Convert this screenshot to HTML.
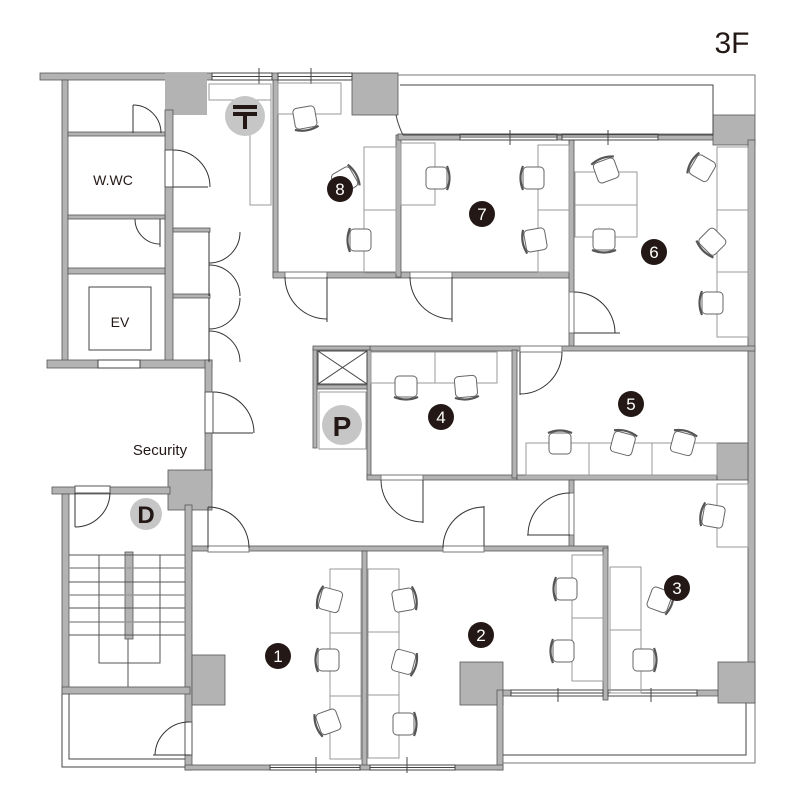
<!DOCTYPE html>
<html><head><meta charset="utf-8"><style>
html,body{margin:0;padding:0;background:#fff;}
svg{display:block;}
text{font-family:"Liberation Sans",sans-serif;}
</style></head><body>
<svg width="800" height="810" viewBox="0 0 800 810" xmlns="http://www.w3.org/2000/svg">
<defs>
<g id="ch"><rect x="-10" y="-11" width="21" height="22" rx="4" fill="#fff" stroke="#666" stroke-width="1"/><path d="M-10,-12 Q-15,0 -10,12" fill="none" stroke="#555" stroke-width="2.2"/></g>
</defs>
<g fill="#b3b3b3" stroke="#555" stroke-width="0.8">
<rect x="40" y="73" width="172" height="7"/>
<rect x="272" y="73" width="6" height="7"/>
<rect x="165" y="73" width="42" height="42" stroke="none"/>
<rect x="352" y="73" width="46" height="42"/>
<rect x="62" y="80" width="6" height="285"/>
<rect x="165" y="110" width="8" height="255"/>
<rect x="68" y="132" width="97" height="4"/>
<rect x="68" y="215" width="97" height="4"/>
<rect x="68" y="268" width="97" height="6"/>
<rect x="47" y="360" width="165" height="8"/>
<rect x="205" y="360" width="7" height="130"/>
<rect x="168" y="470" width="44" height="40"/>
<rect x="173" y="228" width="37" height="4"/>
<rect x="173" y="294" width="37" height="4"/>
<rect x="273" y="80" width="5" height="197"/>
<rect x="273" y="272" width="300" height="6"/>
<rect x="396" y="135" width="5" height="142"/>
<rect x="398" y="134" width="62" height="6"/>
<rect x="557" y="134" width="5" height="6"/>
<rect x="658" y="134" width="60" height="6"/>
<rect x="713" y="115" width="42" height="30"/>
<rect x="748" y="140" width="7" height="563"/>
<rect x="569" y="140" width="5" height="208"/>
<rect x="370" y="346" width="385" height="5"/>
<rect x="313" y="348" width="4" height="100"/>
<rect x="313" y="346" width="57" height="4"/>
<rect x="367" y="350" width="4" height="128"/>
<rect x="317" y="385" width="50" height="4"/>
<rect x="367" y="475" width="150" height="5"/>
<rect x="512" y="350" width="5" height="128"/>
<rect x="517" y="475" width="200" height="5"/>
<rect x="717" y="443" width="31" height="37"/>
<rect x="569" y="480" width="5" height="70"/>
<rect x="190" y="546" width="418" height="5"/>
<rect x="185" y="505" width="7" height="265"/>
<rect x="192" y="655" width="33" height="50"/>
<rect x="362" y="551" width="5" height="216"/>
<rect x="603" y="548" width="5" height="152"/>
<rect x="460" y="662" width="43" height="43"/>
<rect x="497" y="690" width="6" height="80"/>
<rect x="185" y="765" width="85" height="5"/>
<rect x="360" y="765" width="10" height="5"/>
<rect x="455" y="765" width="48" height="5"/>
<rect x="503" y="690" width="8" height="6"/>
<rect x="697" y="690" width="21" height="6"/>
<rect x="718" y="662" width="37" height="41"/>
<rect x="52" y="487" width="118" height="7"/>
<rect x="62" y="494" width="7" height="200"/>
<rect x="62" y="687" width="128" height="7"/>
<rect x="125" y="552" width="8" height="87"/>
</g>
<g fill="none" stroke="#444" stroke-width="1">
<rect x="212" y="73" width="60" height="7" fill="#fff"/><line x1="212" y1="76.5" x2="272" y2="76.5"/><line x1="259" y1="68" x2="259" y2="84"/>
<rect x="278" y="73" width="74" height="7" fill="#fff"/><line x1="278" y1="76.5" x2="352" y2="76.5"/><line x1="311" y1="68" x2="311" y2="84"/>
<rect x="460" y="134" width="97" height="6" fill="#fff"/><line x1="460" y1="137" x2="557" y2="137"/><line x1="510" y1="130" x2="510" y2="145"/>
<rect x="562" y="134" width="96" height="6" fill="#fff"/><line x1="562" y1="137" x2="658" y2="137"/><line x1="608" y1="130" x2="608" y2="145"/>
<rect x="270" y="765" width="90" height="5" fill="#fff"/><line x1="270" y1="767.5" x2="360" y2="767.5"/><line x1="316" y1="757" x2="316" y2="773"/>
<rect x="370" y="765" width="85" height="5" fill="#fff"/><line x1="370" y1="767.5" x2="455" y2="767.5"/><line x1="407" y1="757" x2="407" y2="773"/>
<rect x="511" y="690" width="92" height="6" fill="#fff"/><line x1="511" y1="693" x2="603" y2="693"/><line x1="558" y1="688" x2="558" y2="702"/>
<rect x="608" y="690" width="89" height="6" fill="#fff"/><line x1="608" y1="693" x2="697" y2="693"/><line x1="651" y1="688" x2="651" y2="702"/>
<rect x="98" y="360" width="42" height="8" fill="#fff"/>
<path d="M398,75 H755 V115" stroke="#777"/>
<path d="M400,85 H713 V135 H403"/>
<path d="M396,115 Q398,125 403,135"/>
<path d="M503,755 H746 V703"/>
<path d="M503,763 H755 V703" stroke="#777"/>
<path d="M62,694 V767 H185"/>
<path d="M69,694 V759 H185"/>
<rect x="89" y="287" width="62" height="63"/>
<rect x="318" y="351" width="49" height="33"/><line x1="318" y1="351" x2="367" y2="384"/><line x1="367" y1="351" x2="318" y2="384"/>
<rect x="319" y="392" width="47" height="57" stroke="#999"/>
<g stroke="#555">
<line x1="69" y1="555" x2="185" y2="555"/><line x1="69" y1="568" x2="185" y2="568" stroke="#999" stroke-width="1.5"/>
<line x1="69" y1="582" x2="185" y2="582"/><line x1="69" y1="595" x2="185" y2="595" stroke="#999" stroke-width="1.5"/>
<line x1="69" y1="608" x2="185" y2="608"/><line x1="69" y1="622" x2="185" y2="622" stroke="#999" stroke-width="1.5"/>
<line x1="69" y1="635" x2="185" y2="635"/>
<path d="M99,555 V663 H160 V555"/><line x1="128" y1="639" x2="128" y2="687"/>
</g>
</g>
<g fill="none" stroke="#999" stroke-width="1">
<rect x="209" y="84" width="62" height="16"/><rect x="250" y="100" width="21" height="105"/>
<rect x="278" y="83" width="63" height="31"/>
<rect x="364" y="147" width="32" height="63"/><rect x="364" y="210" width="32" height="63"/>
<rect x="401" y="143" width="34" height="62"/>
<rect x="538" y="145" width="31" height="65"/><rect x="538" y="210" width="31" height="62"/>
<rect x="575" y="172" width="62" height="33"/><rect x="575" y="205" width="62" height="32"/>
<rect x="717" y="147" width="31" height="63"/><rect x="717" y="210" width="31" height="62"/><rect x="717" y="272" width="31" height="65"/>
<rect x="371" y="352" width="64" height="31"/><rect x="435" y="352" width="62" height="31"/>
<rect x="526" y="443" width="63" height="32"/><rect x="589" y="443" width="63" height="32"/><rect x="652" y="443" width="65" height="32"/>
<rect x="717" y="484" width="31" height="63"/>
<rect x="610" y="567" width="31" height="63"/><rect x="610" y="630" width="31" height="63"/>
<rect x="572" y="555" width="31" height="63"/><rect x="572" y="618" width="31" height="63"/>
<rect x="330" y="569" width="31" height="64"/><rect x="330" y="633" width="31" height="63"/><rect x="330" y="696" width="31" height="63"/>
<rect x="368" y="569" width="31" height="63"/><rect x="368" y="632" width="31" height="63"/><rect x="368" y="695" width="31" height="63"/>
</g>
<g fill="none" stroke="#333" stroke-width="1">
<rect x="285" y="272" width="42" height="6" fill="#fff" stroke="#777"/><line x1="327" y1="277" x2="327" y2="322"/><path d="M285,277 A42,42 0 0 0 327,319"/>
<rect x="410" y="272" width="42" height="6" fill="#fff" stroke="#777"/><line x1="452" y1="277" x2="452" y2="322"/><path d="M410,277 A42,42 0 0 0 452,319"/>
<rect x="569" y="292" width="5" height="41" fill="#fff" stroke="#777"/><line x1="574" y1="333" x2="620" y2="333"/><path d="M574,292 A41,41 0 0 1 615,333"/>
<rect x="381" y="475" width="42" height="5" fill="#fff" stroke="#777"/><line x1="423" y1="480" x2="423" y2="523"/><path d="M381,480 A42,42 0 0 0 423,522"/>
<rect x="520" y="346" width="42" height="6" fill="#fff" stroke="#777"/><line x1="520" y1="352" x2="520" y2="395"/><path d="M562,352 A42,42 0 0 1 520,394"/>
<rect x="443" y="546" width="41" height="6" fill="#fff" stroke="#777"/><line x1="484" y1="546" x2="484" y2="506"/><path d="M443,548 A41,41 0 0 1 484,507"/>
<rect x="569" y="493" width="5" height="42" fill="#fff" stroke="#777"/><line x1="570" y1="535" x2="527" y2="535"/><path d="M570,493 A42,42 0 0 0 528,535"/>
<rect x="208" y="546" width="41" height="6" fill="#fff" stroke="#777"/><line x1="208" y1="548" x2="208" y2="507"/><path d="M208,507 A41,41 0 0 1 249,548"/>
<rect x="205" y="392" width="8" height="41" fill="#fff" stroke="#555"/><line x1="213" y1="433" x2="253" y2="433"/><path d="M213,392 A41,41 0 0 1 254,433"/>
<rect x="165" y="150" width="8" height="37" fill="#fff" stroke="#555"/><line x1="173" y1="187" x2="208" y2="187"/><path d="M173,150 A37,37 0 0 1 210,187"/>
<line x1="133" y1="105" x2="133" y2="133"/><path d="M133,105 A28,28 0 0 1 161,133"/>
<line x1="160" y1="219" x2="160" y2="247"/><path d="M135,219 A25,25 0 0 0 160,244"/>
<line x1="209" y1="232" x2="209" y2="296"/><path d="M240,232 A31,31 0 0 1 209,263"/><path d="M209,265 A31,31 0 0 1 240,296"/>
<line x1="209" y1="298" x2="209" y2="362"/><path d="M240,298 A31,31 0 0 1 209,329"/><path d="M209,331 A31,31 0 0 1 240,362"/>
<rect x="75" y="486" width="35" height="7" fill="#fff" stroke="#555"/><line x1="75" y1="493" x2="75" y2="527"/><path d="M110,493 A35,35 0 0 1 75,527"/>
<rect x="185" y="722" width="7" height="33" fill="#fff" stroke="#555"/><line x1="190" y1="755" x2="153" y2="755"/><path d="M190,722 A34,34 0 0 0 155,755"/>
</g>
<use href="#ch" transform="translate(305,118) rotate(-100)"/>
<use href="#ch" transform="translate(345,180) rotate(150)"/>
<use href="#ch" transform="translate(360,240)"/>
<use href="#ch" transform="translate(437,178) rotate(180)"/>
<use href="#ch" transform="translate(533,178)"/>
<use href="#ch" transform="translate(535,240) rotate(-10)"/>
<use href="#ch" transform="translate(606,170) rotate(70)"/>
<use href="#ch" transform="translate(702,168) rotate(30)"/>
<use href="#ch" transform="translate(712,242) rotate(-45)"/>
<use href="#ch" transform="translate(712,303)"/>
<use href="#ch" transform="translate(604,240) rotate(-90)"/>
<use href="#ch" transform="translate(406,387) rotate(-90)"/>
<use href="#ch" transform="translate(466,387) rotate(-95)"/>
<use href="#ch" transform="translate(560,443) rotate(90)"/>
<use href="#ch" transform="translate(623,443) rotate(105)"/>
<use href="#ch" transform="translate(683,443) rotate(105)"/>
<use href="#ch" transform="translate(713,516) rotate(10)"/>
<use href="#ch" transform="translate(660,600) rotate(200)"/>
<use href="#ch" transform="translate(644,660) rotate(180)"/>
<use href="#ch" transform="translate(404,600) rotate(170)"/>
<use href="#ch" transform="translate(404,662) rotate(195)"/>
<use href="#ch" transform="translate(404,724) rotate(180)"/>
<use href="#ch" transform="translate(566,589)"/>
<use href="#ch" transform="translate(563,651)"/>
<use href="#ch" transform="translate(330,600) rotate(15)"/>
<use href="#ch" transform="translate(328,660)"/>
<use href="#ch" transform="translate(328,722) rotate(-20)"/>
<circle cx="245" cy="116" r="20" fill="#c6c6c6"/>
<rect x="233" y="105" width="24" height="4" fill="#231815"/><rect x="233" y="112" width="24" height="4" fill="#231815"/><rect x="243" y="112" width="4" height="17" fill="#231815"/>
<circle cx="342" cy="425" r="20" fill="#c6c6c6"/>
<text x="342" y="436" font-size="28" font-weight="bold" fill="#231815" text-anchor="middle">P</text>
<circle cx="146" cy="514" r="16" fill="#c6c6c6"/>
<text x="146" y="523" font-size="24" font-weight="bold" fill="#231815" text-anchor="middle">D</text>
<g fill="#231815">
<circle cx="340" cy="189" r="13"/><circle cx="482" cy="214" r="13"/><circle cx="654" cy="252" r="13"/>
<circle cx="441" cy="417" r="13"/><circle cx="631" cy="404" r="13"/><circle cx="677" cy="588" r="13"/>
<circle cx="481" cy="635" r="13"/><circle cx="278" cy="656" r="13"/>
</g>
<g fill="#fff" font-size="17" text-anchor="middle">
<text x="340" y="195">8</text><text x="482" y="220">7</text><text x="654" y="258">6</text>
<text x="441" y="423">4</text><text x="631" y="410">5</text><text x="677" y="594">3</text>
<text x="481" y="641">2</text><text x="278" y="662">1</text>
</g>
<g fill="#231815" font-size="14">
<text x="113" y="185" text-anchor="middle">W.WC</text>
<text x="120" y="327" text-anchor="middle">EV</text>
<text x="160" y="455" text-anchor="middle" font-size="15">Security</text>
</g>
<text x="732" y="53" font-size="30" fill="#231815" text-anchor="middle">3F</text>
</svg>
</body></html>
